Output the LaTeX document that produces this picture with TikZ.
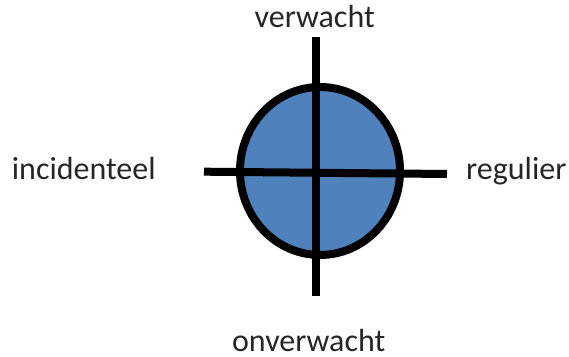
\documentclass[tikz,border=0pt]{standalone}
\usepackage{fontspec}
\setmainfont{Carlito}
\usepackage{tikz}
\definecolor{quad}{RGB}{79, 129, 189}
\definecolor{ink}{RGB}{38, 38, 38}
\newcommand*{\lw}{4pt}

\begin{document}
\begin{tikzpicture}[
   x=0.5pt, y=0.5pt,
   disc/.style={draw=black, fill=quad, line width=\lw},
   axisline/.style={draw=black, line width=\lw},
   axislabel/.style={anchor=base, inner sep=0, text=ink,
                     font=\fontsize{16}{19}\selectfont}
  ]

  \useasboundingbox (0, 0) rectangle (569, 357);

  % Centre and ends of the axes
  \coordinate (O) at (320, 186);
  \coordinate (N) at (316, 320);
  \coordinate (S) at (316, 61);
  \coordinate (W) at (204, 185.3);
  \coordinate (E) at (447, 183);

  \draw[disc] (O) ellipse [x radius=80, y radius=84];

  \draw[axisline] (N) -- (S);
  \draw[axisline] (W) -- (E);

  \node (top) at (314.7, 329.7) [axislabel] {verwacht};
  \node (bottom) at (308.7, 5.3) [axislabel] {onverwacht};
  \node (left) at (83.8, 177) [axislabel] {incidenteel};
  \node (right) at (516.3, 177) [axislabel] {regulier};

\end{tikzpicture}
\end{document}
